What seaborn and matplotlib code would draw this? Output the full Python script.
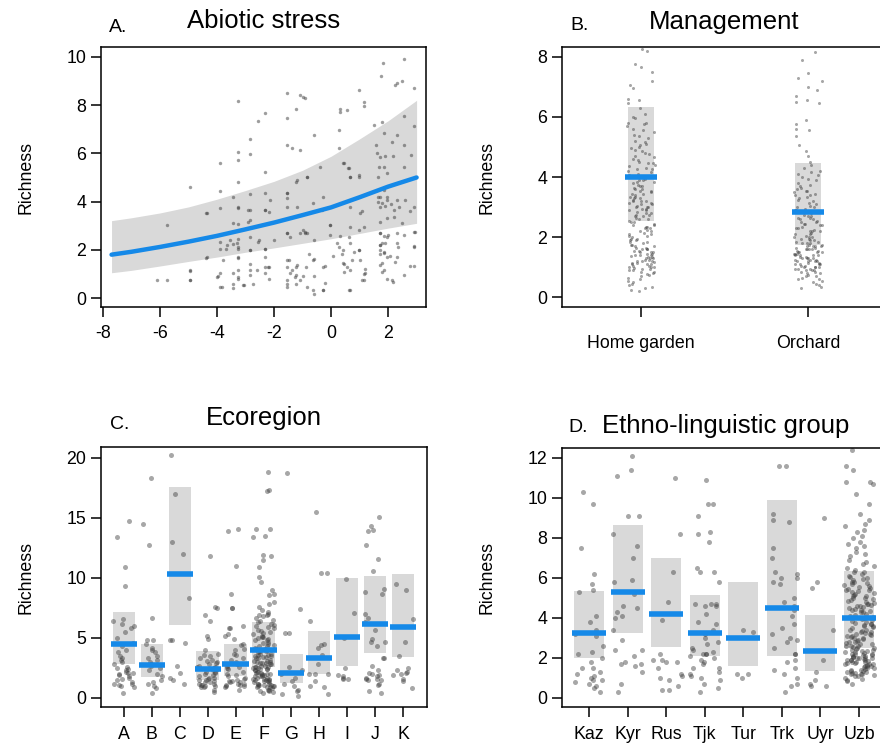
#partial residual plots for richness: abiotic stress, management, ecoregion, ethno-linguistic group
import numpy as np
import pandas as pd
import seaborn as sns
import matplotlib.pyplot as plt

#Panel A data
stress_x = [-5.77, -4.95, -6.12, -5.77, -4.95, -4.95, -4.37, -4.37, -3.9, -3.9, -3.9, -3.9, -3.9, -3.95,
            -3.7, -3.55, -3.28, -3.28, -3.28, -3.28, -3.28, -3.28, -3.28, -3.28, -3.28, -3.28, -3.28,
            -3.45, -3.3, -2.84, -2.84, -2.84, -2.84, -2.84, -2.84, -2.84, -2.84, -2.84, -3.07, -2.57,
            -2.54, -2.31, -2.31, -2.31, -2.31, -2.31, -2.31, -2.31, -2.16, -2.16, -2.16, -2.0, -1.55,
            -1.55, -1.55, -1.55, -1.55, -1.55, -1.53, -1.53, -1.38, -1.22, -1.22, -1.22, -1.22, -1.38,
            -1.24, -1.1, -0.93, -1.1, -0.98, -0.93, -0.87, -0.61, -0.61, -0.61, -0.61, -0.61, -0.38,
            -0.32, -0.27, -0.27, -0.03, -0.03, 0.27, 0.27, 0.33, 0.45, 0.56, 0.62, 0.68, 0.74, 0.62,
            0.27, 0.39, 0.45, 0.45, 0.56, 0.62, 0.68, 0.97, 0.97, 0.97, 0.97, 1.14, 1.14, 1.14, 1.14,
            1.08, 1.5, 1.56, 1.62, 1.67, 1.73, 1.73, 1.73, 1.73, 1.73, 1.73, 1.73, 1.79, 1.82, 1.76,
            1.8, 1.85, 1.9, 1.96, 1.96, 1.96, 1.96, 1.96, 1.96, 2.14, 2.18, 2.2, 2.34, 2.18, 2.26,
            2.32, 2.32, 2.32, 2.57, 2.57, 2.57, 2.57, 2.6, 2.57, 2.57, 2.79, 2.9, 2.9, 2.9, 2.9, 2.9,
            2.9, 2.78, 1.7, 1.85, 2.0, 2.1, 1.65, 1.9, 2.25, 0.8, 1.2,
            1.72, 1.84, 1.65, 1.84, 1.8, 1.9, 1.95, 1.63, 2.3, 2.4, 2.2, 2.5, 1.72, 1.84, 1.8, 1.72,
            1.84, 2.07, 2.3, 2.9, 2.95, 2.77, 1.8, 1.84, 2.13, 1.2, 1.08, 0.67, 0.43, 0.43, 0.67,
            0.97, 1.02, 0.2, 0.08, -0.21, -0.21, -0.62, -0.27, 0.67, -0.97, -0.62, 0.61, 0.97, 0.67,
            0.43, 1.02, 0.67, 0.32, -0.04, -0.27, -0.62, -0.86, -0.86, 1.14, 0.32, -0.97, 2.5, 2.3,
            -3.44, -3.26, -2.91, -4.36, -3.44, -2.91, -3.89, -3.66, -3.44, -3.26, -2.84, -2.55, -2.32,
            -4.36, -3.78, -3.26, -2.84, -2.6, -2.2, -2.32, -3.44, -3.26, -3.89, -4.0, -3.84, -3.44,
            -3.08, -2.73, -4.95, -4.95, -2.32, -2.14, -1.55, -1.55, -1.55, -1.2, -1.2, -0.85, -1.55,
            -1.43, -1.08, -0.9, -1.49, -1.55, -1.43, -1.2, -1.26, -1.55, -1.08, -0.85, -0.79]
stress_y = [3.02, 4.62, 0.76, 0.76, 1.12, 0.74, 3.54, 1.66, 4.45, 5.59, 3.72, 2.05, 0.46, 0.9,
            2.05, 2.4, 8.18, 6.07, 5.73, 4.83, 3.72, 3.09, 2.43, 2.05, 1.66, 1.15, 0.87, 0.6, 2.3,
            6.59, 5.98, 4.31, 3.65, 3.23, 2.54, 1.98, 1.43, 0.94, 0.53, 7.36, 2.4, 7.67, 5.24, 4.34,
            3.65, 2.05, 1.71, 1.29, 3.58, 1.29, 0.8, 2.4, 8.5, 7.46, 6.35, 4.34, 2.68, 1.57, 0.74,
            0.46, 6.24, 7.84, 4.83, 1.29, 0.94, 1.15, 0.6, 6.14, 8.29, 8.43, 2.82, 2.68, 1.29, 2.4,
            6.77, 1.6, 0.18, 0.9, 5.45, 3.65, 1.29, 0.32, 3.02, 2.6, 6.98, 6.21, 7.85, 5.59, 7.81,
            5.38, 5.03, 1.57, 0.32, 2.12, 1.84, 1.43, 1.08, 1.29, 2.54, 3.79, 8.64, 5.1, 2.82, 1.98,
            8.15, 2.95, 1.01, 0.74, 3.6, 7.18, 6.35, 6.0, 5.45, 4.2, 3.79, 3.16, 2.68, 2.19, 1.82,
            1.36, 1.08, 9.75, 9.22, 7.32, 6.84, 5.87, 5.17, 4.06, 3.3, 2.54, 1.71, 0.8, 6.49, 5.89,
            3.65, 2.12, 0.67, 8.85, 6.77, 2.68, 1.71, 9.92, 7.53, 6.35, 5.45, 4.06, 2.61, 0.94, 5.94,
            8.71, 7.12, 3.79, 2.75, 2.12, 1.32, 3.6, 2.2, 1.9, 2.6, 3.9, 4.2, 2.3, 1.5, 1.9, 1.2,
            5.86, 5.45, 5.03, 4.48, 3.93, 3.8, 4.2, 3.99, 4.06, 3.78, 3.37, 3.1, 2.7, 2.56, 2.28, 2.0,
            1.87, 1.73, 2.28, 2.14, 2.75, 1.31, 1.45, 1.18, 0.77, 1.04, 0.77, 1.18, 1.45, 2.0, 2.28,
            2.0, 1.59, 2.28, 1.73, 1.31, 0.62, 0.35, 0.35, 0.35, 0.9, 1.59, 5.38, 5.03, 5.03, 5.58,
            3.51, 2.96, 2.56, 3.02, 4.2, 3.93, 5.03, 2.7, 7.98, 7.7, 8.32, 8.99, 8.92,
            4.2, 3.79, 3.65, 3.52, 3.1, 3.17, 2.33, 2.19, 2.26, 2.12, 1.98, 2.33, 2.05, 1.7, 1.56,
            1.7, 1.16, 1.16, 1.29, 1.02, 1.02, 0.81, 1.02, 0.88, 0.47, 0.4, 0.54, 0.58, 1.16, 0.74,
            3.65, 4.06, 4.13, 4.34, 3.79, 3.79, 4.9, 5.03, 2.69, 2.55, 2.69, 2.76, 1.56, 1.29, 1.02,
            1.36, 0.88, 0.6, 0.74, 0.47, 1.84]

#fitted curve and confidence band, panel A
fit_x = [-7.7, -7, -6, -5, -4, -3, -2, -1, 0, 1, 2, 3]
fit_y = [1.8, 1.92, 2.12, 2.34, 2.58, 2.85, 3.13, 3.44, 3.76, 4.18, 4.62, 5.0]
fit_lo = [1.05, 1.15, 1.33, 1.52, 1.7, 1.9, 2.08, 2.27, 2.46, 2.68, 2.9, 3.1]
fit_hi = [3.21, 3.33, 3.53, 3.78, 4.1, 4.46, 4.84, 5.3, 5.88, 6.6, 7.35, 8.2]

#Panel B data
mgmt_names = ['Home garden', 'Orchard']
mgmt_fit = [4.0, 2.82]
mgmt_lo = [2.52, 1.75]
mgmt_hi = [6.34, 4.48]
home_garden = [8.25, 8.2, 7.75, 7.65, 7.5, 7.2, 7.05, 6.95, 6.6, 6.55, 6.45, 6.3, 6.1, 5.95, 5.8,
               5.75, 5.7, 5.55, 5.4, 5.35, 5.2, 5.1, 5.0, 4.95, 4.85, 4.75, 4.7, 4.6, 4.55, 4.45,
               4.4, 4.3, 4.25, 4.15, 4.1, 4.05, 3.95, 3.9, 3.85, 3.8, 3.75, 3.7, 3.65, 3.6, 3.55,
               3.5, 3.45, 3.4, 3.35, 3.3, 3.25, 3.2, 3.2, 3.15, 3.1, 3.05, 3.0, 3.0, 2.95, 2.9,
               2.85, 2.8, 2.75, 2.7, 2.65, 2.6, 2.55, 2.5, 2.45, 2.4, 2.35, 2.3, 2.25, 2.2, 2.15,
               2.1, 2.05, 2.0, 1.95, 1.9, 1.85, 1.8, 1.75, 1.7, 1.65, 1.6, 1.6, 1.55, 1.5, 1.5,
               1.45, 1.4, 1.4, 1.35, 1.3, 1.3, 1.25, 1.2, 1.2, 1.15, 1.1, 1.1, 1.05, 1.0, 1.0, 0.95,
               0.9, 0.85, 0.8, 0.75, 0.7, 0.6, 0.5, 0.45, 0.4, 0.35, 0.3, 0.25, 0.2,
               5.8, 5.6, 5.3, 5.15, 5.05, 4.9, 4.8, 4.65, 4.5, 4.35, 4.2, 4.0, 3.85, 3.7, 3.55, 3.45,
               3.3, 3.2, 3.1, 3.0, 2.9, 2.8, 2.7, 2.6, 2.5, 2.35, 2.2, 2.05, 1.95, 1.85, 1.75, 1.65,
               1.55, 1.45, 1.38, 1.32, 1.25, 1.18, 1.12, 1.05, 0.98, 0.92, 0.85, 0.78, 1.5, 1.4, 1.3,
               1.2, 1.0, 0.9, 2.3, 2.1, 1.9, 1.7, 3.9, 3.6, 3.35, 3.15, 2.95, 2.75, 6.0, 5.5, 4.45,
               4.25, 2.4, 1.6, 1.1, 0.65, 0.55]
orchard = [8.15, 7.9, 7.45, 7.3, 7.2, 7.0, 6.9, 6.7, 6.55, 6.5, 6.45, 5.9, 5.75, 5.6, 5.55, 5.35,
           5.05, 4.85, 4.7, 4.5, 4.4, 4.3, 4.15, 4.1, 4.0, 3.9, 3.8, 3.7, 3.65, 3.55, 3.5, 3.4,
           3.35, 3.25, 3.2, 3.1, 3.05, 3.0, 2.95, 2.9, 2.85, 2.75, 2.7, 2.65, 2.6, 2.55, 2.5, 2.45,
           2.4, 2.35, 2.3, 2.25, 2.2, 2.15, 2.1, 2.05, 2.0, 1.95, 1.9, 1.85, 1.8, 1.75, 1.7, 1.7,
           1.65, 1.6, 1.6, 1.55, 1.5, 1.5, 1.45, 1.4, 1.4, 1.35, 1.3, 1.3, 1.25, 1.2, 1.2, 1.15,
           1.1, 1.1, 1.05, 1.0, 1.0, 0.95, 0.9, 0.9, 0.85, 0.8, 0.75, 0.7, 0.65, 0.6, 0.5, 0.45,
           0.4, 0.3,
           4.2, 4.05, 3.95, 3.75, 3.6, 3.45, 3.3, 3.15, 3.0, 2.9, 2.8, 2.7, 2.6, 2.5, 2.4, 2.3, 2.2,
           2.1, 2.0, 1.95, 1.9, 1.85, 1.8, 1.75, 1.7, 1.65, 1.6, 1.55, 1.5, 1.45, 1.4, 1.35, 1.3,
           1.25, 1.2, 1.15, 1.1, 1.05, 1.0, 0.95, 0.9, 0.85, 0.8, 0.7, 0.6, 1.6, 1.5, 1.4, 1.3,
           1.2, 1.1, 1.0, 1.8, 1.7, 2.0, 2.2, 2.45, 2.65, 2.85, 3.4, 3.55, 0.55, 0.35, 0.95, 1.25,
           1.45]

#Panel C data
eco_names = ['A', 'B', 'C', 'D', 'E', 'F', 'G', 'H', 'I', 'J', 'K']
eco_fit = [4.49, 2.77, 10.33, 2.44, 2.85, 4.02, 2.1, 3.32, 5.04, 6.15, 5.87]
eco_lo = [2.85, 1.75, 6.07, 1.53, 1.8, 2.55, 1.25, 2.0, 2.63, 3.74, 3.4]
eco_hi = [7.12, 4.52, 17.6, 3.88, 4.52, 6.32, 3.66, 5.62, 9.97, 10.17, 10.3]
eco_points = {
    'A': [13.4, 14.7, 10.9, 9.3, 6.6, 6.4, 6.2, 6.0, 5.8, 5.5, 5.0, 4.6, 4.3, 4.0, 3.8, 3.5, 3.2,
          3.0, 2.8, 2.6, 2.5, 2.3, 2.2, 2.1, 2.0, 1.9, 1.8, 1.6, 1.5, 1.3, 1.2, 1.2, 1.1, 1.0, 0.9,
          0.4, 2.4, 3.3, 2.1, 1.7],
    'B': [18.3, 14.5, 12.7, 6.7, 4.8, 4.8, 4.5, 4.2, 4.0, 3.8, 3.5, 3.2, 3.0, 2.8, 2.5, 2.3, 2.0,
          1.8, 1.5, 1.3, 1.2, 1.0, 0.8, 0.4, 3.3, 2.7],
    'C': [20.2, 17.0, 13.0, 12.0, 8.3, 4.8, 4.8, 4.6, 2.7, 2.1, 1.7, 1.5, 1.2],
    'D': [11.8, 7.6, 7.5, 6.9, 6.4, 5.2, 4.9, 4.0, 3.7, 3.5, 3.3, 3.2, 3.0, 2.9, 2.8, 2.6, 2.5,
          2.4, 2.3, 2.2, 2.0, 1.9, 1.8, 1.7, 1.6, 1.5, 1.4, 1.3, 1.2, 1.1, 1.0, 0.9, 0.7, 0.5, 2.7,
          1.5, 1.2, 3.1, 2.1, 1.0, 1.3, 1.1, 2.2, 2.6, 1.7, 0.9, 3.6],
    'E': [14.1, 13.9, 11.0, 8.7, 7.5, 7.5, 6.0, 5.8, 5.8, 5.3, 5.2, 4.9, 4.5, 4.1, 4.0, 3.7, 3.3,
          3.0, 2.8, 2.6, 2.5, 2.2, 2.0, 1.9, 1.7, 1.5, 1.4, 1.3, 1.2, 1.2, 1.1, 1.0, 0.9, 0.7, 1.6,
          2.4, 3.6, 1.1, 1.4, 1.3, 1.0, 1.8, 2.7, 3.2, 4.4],
    'F': [18.8, 17.3, 17.2, 14.1, 14.1, 13.5, 13.4, 11.9, 11.8, 11.5, 10.9, 10.1, 9.7, 9.0, 8.7,
          8.6, 8.0, 7.8, 7.6, 7.3, 7.2, 7.0, 6.9, 6.8, 6.7, 6.5, 6.3, 6.1, 6.0, 5.8, 5.6, 5.5, 5.3,
          5.2, 5.0, 4.9, 4.8, 4.6, 4.5, 4.4, 4.2, 4.1, 4.0, 3.9, 3.8, 3.7, 3.6, 3.5, 3.4, 3.3, 3.2,
          3.1, 3.0, 2.9, 2.8, 2.8, 2.7, 2.6, 2.5, 2.5, 2.4, 2.3, 2.2, 2.2, 2.1, 2.0, 2.0, 1.9, 1.8,
          1.8, 1.7, 1.6, 1.6, 1.5, 1.4, 1.4, 1.3, 1.2, 1.2, 1.1, 1.0, 1.0, 0.9, 0.8, 0.7, 0.6, 0.5,
          0.4, 3.0, 2.6, 3.3, 2.0, 1.5, 4.3, 5.1, 3.6, 2.4, 1.1, 0.9, 6.4,
          5.9, 5.4, 4.7, 4.3, 3.9, 3.5, 3.1, 2.9, 2.7, 2.3, 2.1, 1.9, 1.7, 1.5, 1.3, 1.1, 0.9,
          0.7, 5.7, 4.8, 3.7, 2.6, 1.8, 1.2, 6.9, 6.2, 5.1, 4.1, 3.4, 2.9, 2.4, 1.6, 1.0, 0.6],
    'G': [18.7, 7.4, 5.4, 5.4, 2.6, 2.3, 2.0, 1.7, 1.4, 1.2, 1.0, 0.7, 0.6, 0.3, 0.2],
    'H': [15.5, 10.4, 10.4, 6.4, 4.5, 4.4, 4.2, 3.6, 2.8, 2.0, 2.0, 2.0, 1.4, 1.0, 0.9, 0.3],
    'I': [9.9, 7.1, 5.0, 2.5, 1.8, 1.7, 1.6, 1.6, 1.9],
    'J': [15.1, 14.3, 14.0, 13.9, 12.7, 11.6, 10.6, 9.1, 8.8, 8.7, 7.0, 6.7, 6.3, 5.7, 4.9, 4.7,
          4.7, 4.3, 3.3, 3.3, 2.7, 2.3, 2.1, 2.0, 1.9, 1.8, 1.7, 1.6, 1.5, 1.2, 1.1, 0.6, 0.4, 1.6,
          1.5],
    'K': [9.5, 9.0, 6.6, 4.7, 3.5, 2.5, 2.3, 2.1, 2.0, 1.9, 1.6, 1.4, 0.8, 2.2],
}

#Panel D data
eth_names = ['Kaz', 'Kyr', 'Rus', 'Tjk', 'Tur', 'Trk', 'Uyr', 'Uzb']
eth_fit = [3.25, 5.3, 4.22, 3.25, 3.0, 4.5, 2.33, 4.0]
eth_lo = [2.0, 3.25, 2.55, 2.08, 1.58, 2.08, 1.33, 2.5]
eth_hi = [5.37, 8.67, 6.98, 5.17, 5.78, 9.88, 4.17, 6.37]
eth_points = {
    'Kaz': [10.3, 9.7, 7.5, 6.2, 5.7, 5.4, 5.3, 4.1, 3.8, 3.4, 3.2, 3.1, 2.6, 2.3, 2.2, 2.0, 1.8,
            1.5, 1.5, 1.3, 1.2, 1.0, 0.9, 0.9, 0.8, 0.7, 0.6, 0.5, 0.3, 1.1],
    'Kyr': [12.1, 11.4, 11.1, 9.1, 9.1, 8.2, 7.6, 7.0, 5.9, 5.8, 5.2, 4.6, 4.5, 4.3, 4.1, 4.0, 3.4,
            2.9, 2.1, 1.8, 1.7, 1.7, 1.6, 1.3, 0.7, 0.3, 2.4, 2.4],
    'Rus': [11.0, 8.2, 6.3, 4.8, 3.9, 2.2, 1.9, 1.9, 1.8, 1.5, 1.2, 1.1, 1.0, 0.9, 0.6, 0.4, 0.4,
            1.8],
    'Tjk': [10.9, 9.7, 9.7, 9.1, 8.3, 8.2, 7.8, 6.5, 6.3, 6.3, 5.8, 4.7, 4.7, 4.7, 4.6, 4.6, 4.2,
            3.8, 3.7, 3.4, 3.2, 3.0, 2.8, 2.7, 2.5, 2.4, 2.3, 2.2, 2.2, 2.2, 2.1, 2.0, 1.9, 1.8,
            1.7, 1.5, 1.5, 1.3, 1.2, 1.1, 1.0, 0.9, 0.7, 0.5, 0.3],
    'Tur': [3.4, 3.3, 1.2, 1.2, 1.0],
    'Trk': [11.6, 11.6, 9.2, 8.9, 8.8, 7.5, 7.0, 6.3, 6.2, 6.0, 6.0, 5.8, 5.7, 5.0, 4.8, 4.6, 4.4,
            4.1, 3.7, 3.5, 3.2, 3.0, 2.9, 2.8, 2.5, 2.2, 2.2, 1.9, 1.8, 1.5, 1.4, 1.2, 1.0, 0.7,
            0.6, 0.3],
    'Uyr': [9.0, 5.8, 5.5, 3.4, 1.9, 1.3, 0.9, 0.7, 0.6, 0.6],
    'Uzb': [12.4, 11.4, 10.8, 10.8, 10.7, 10.2, 9.7, 8.9, 8.7, 8.6, 8.4, 8.3, 8.0, 7.8, 7.6, 7.5,
            7.3, 7.1, 6.9, 6.7, 6.6, 6.5, 6.3, 6.2, 6.0, 5.9, 5.8, 5.7, 5.6, 5.5, 5.4, 5.3, 5.2,
            5.1, 5.0, 4.9, 4.8, 4.7, 4.6, 4.5, 4.4, 4.3, 4.2, 4.1, 4.0, 3.9, 3.8, 3.7, 3.6, 3.5,
            3.4, 3.3, 3.2, 3.1, 3.0, 2.9, 2.8, 2.7, 2.6, 2.5, 2.4, 2.3, 2.2, 2.1, 2.0, 2.0, 1.9,
            1.9, 1.8, 1.8, 1.7, 1.7, 1.6, 1.5, 1.5, 1.4, 1.3, 1.2, 1.2, 1.1, 1.0, 0.9, 0.7, 5.8,
            5.0, 4.4, 3.6, 3.2, 2.8, 2.4, 2.2, 2.0, 1.8, 1.6, 1.3, 4.6, 3.0, 2.6, 1.9, 5.4,
            6.3, 6.1, 5.95, 5.75, 5.55, 5.35, 5.15, 4.95, 4.75, 4.55, 4.35, 4.15, 3.95, 3.75, 3.55,
            3.35, 3.15, 2.95, 2.75, 2.55, 2.35, 2.15, 1.95, 1.75, 1.55, 1.35, 1.15, 0.95, 5.65,
            5.25, 4.85, 4.45, 4.05, 3.65, 3.25, 2.85, 2.45, 2.05, 1.65, 1.25, 0.85, 6.05, 5.45,
            4.65, 3.85, 3.05, 2.25, 2.05, 1.85, 1.45, 1.2, 1.1, 2.3, 2.5, 2.1, 1.7, 1.9, 2.0, 1.6,
            1.4, 2.2, 2.6, 2.7, 3.1, 3.4, 4.7, 5.1, 4.3, 3.7, 3.3, 1.25, 1.35, 1.75, 2.15, 2.35,
            8.1, 7.7, 7.2, 6.8, 6.4, 9.2, 11.6]
}

BLUE = '#1589e8'
BAND = '#d9d9d9'
DOT = '#3c3c3c'


def long_frame(points: dict) -> pd.DataFrame:
    """turn a dict of lists into a long table for stripplot"""
    rows = [(k, v) for k, vals in points.items() for v in vals]
    return pd.DataFrame(rows, columns=['group', 'richness'])


def style_box(ax, yticks):
    """R style box with outward ticks"""
    for sp in ax.spines.values():
        sp.set_visible(True)
        sp.set_color('black')
        sp.set_linewidth(1.1)
    ax.set_yticks(yticks)
    ax.tick_params(direction='out', length=7, width=1.1, labelsize=12.8, color='black',
                   labelcolor='black')
    ax.set_ylabel('Richness', fontsize=12.8, color='black')
    ax.yaxis.set_label_coords(-0.205, 0.5)
    ax.set_xlabel('')
    ax.grid(False)


def category_panel(ax, names, points, fit, lo, hi, band_w, line_w, jit, dot_size):
    pos = np.arange(len(names))
    ax.bar(pos, np.array(hi) - np.array(lo), bottom=lo, width=band_w, color=BAND,
           linewidth=0, zorder=1)
    data = long_frame(points)
    sns.stripplot(data=data, x='group', y='richness', order=names, jitter=jit,
                  color=DOT, size=dot_size, alpha=0.45, linewidth=0, ax=ax, zorder=2)
    ax.hlines(fit, pos - line_w / 2, pos + line_w / 2, colors=BLUE, linewidth=4, zorder=3)


sns.set_style('ticks')
plt.rcParams['font.family'] = ['Liberation Sans', 'DejaVu Sans']
plt.rcParams['axes.unicode_minus'] = False
plt.rcParams['text.color'] = 'black'
np.random.seed(3)

fig = plt.figure(figsize=(8.8, 7.45), dpi=100)
W, H = 880.0, 745.0


def axes_px(left, top, right, bottom):
    return fig.add_axes([left / W, 1 - bottom / H, (right - left) / W, (bottom - top) / H])


#A. Abiotic stress
axA = axes_px(101, 47, 426, 307)
axA.fill_between(fit_x, fit_lo, fit_hi, color=BAND, linewidth=0, zorder=1)
sns.scatterplot(x=stress_x, y=stress_y, s=6, color=DOT, alpha=0.5, linewidth=0, ax=axA, zorder=2)
sns.lineplot(x=fit_x, y=fit_y, color=BLUE, linewidth=3.2, ax=axA, zorder=3)
axA.set_xlim(-8.07, 3.33)
axA.set_ylim(-0.37, 10.41)
axA.set_xticks([-8, -6, -4, -2, 0, 2])
style_box(axA, [0, 2, 4, 6, 8, 10])
axA.tick_params(axis='x', pad=6)

#B. Management
axB = axes_px(562, 47, 887, 307)
category_panel(axB, mgmt_names, {'Home garden': home_garden, 'Orchard': orchard},
               mgmt_fit, mgmt_lo, mgmt_hi, 0.16, 0.19, 0.085, 2.2)
axB.set_xlim(-0.473, 1.473)
axB.set_ylim(-0.33, 8.33)
style_box(axB, [0, 2, 4, 6, 8])
axB.tick_params(axis='x', pad=13)

#C. Ecoregion
axC = axes_px(101, 447, 427, 707)
category_panel(axC, eco_names, eco_points, eco_fit, eco_lo, eco_hi, 0.8, 0.94, 0.38, 3.6)
axC.set_xlim(-0.82, 10.86)
axC.set_ylim(-0.75, 20.9)
style_box(axC, [0, 5, 10, 15, 20])
axC.tick_params(axis='x', pad=7)

#D. Ethno-linguistic group
axD = axes_px(562, 448, 886, 707)
category_panel(axD, eth_names, eth_points, eth_fit, eth_lo, eth_hi, 0.78, 0.88, 0.4, 3.6)
axD.set_xlim(-0.70, 7.70)
axD.set_ylim(-0.45, 12.5)
style_box(axD, [0, 2, 4, 6, 8, 10, 12])
axD.tick_params(axis='x', pad=7)

#panel titles
def ftext(x, y, s, size, ha='left'):
    fig.text(x / W, 1 - y / H, s, fontsize=size, ha=ha, va='center', color='black')


ftext(109, 27, 'A.', 14)
ftext(264, 21, 'Abiotic stress', 18.5, ha='center')
ftext(570, 26, 'B.', 14)
ftext(724, 22, 'Management', 18.5, ha='center')
ftext(110, 425, 'C.', 14)
ftext(264, 418, 'Ecoregion', 18.5, ha='center')
ftext(568, 428, 'D.', 14)
ftext(602, 426, 'Ethno-linguistic group', 18.5)

fig.savefig('out.png', dpi=100)
